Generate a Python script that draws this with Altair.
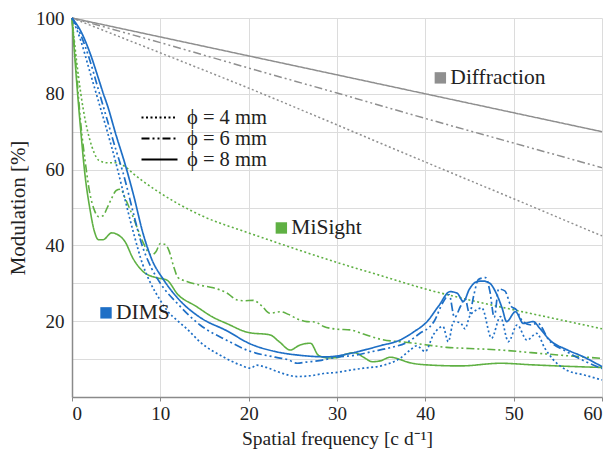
import altair as alt
import pandas as pd

# ---------------- data ----------------
diff_x = [0, 10, 20, 30, 40, 50, 60]
diff_8 = [100, 95, 90, 85, 80, 75, 70]
diff_6 = [100, 93.5, 86.8, 80.2, 73.5, 67, 60.5]
diff_4 = [100, 90.8, 81.5, 71.8, 62, 52.3, 42.5]

mis4_x = [0, 0.5, 1, 1.5, 2, 2.5, 3, 4, 5, 6, 7, 8, 10, 12, 15, 20, 25, 30, 35, 40, 45, 50, 55, 60]
mis4_y = [100, 89, 80, 73, 68, 64.5, 62.5, 61.8, 61.8, 60.8, 58.8, 57, 53.8, 51, 47.5, 43.3, 39.3, 35.5, 32, 28.5, 25.6, 23, 20.5, 18]

mis6_x = [0, 0.5, 1, 1.5, 2, 2.5, 3, 3.5, 4, 4.5, 5, 5.5, 6, 7, 8, 9, 9.5, 10, 10.5, 11, 11.5, 12, 13, 14.5, 16, 17.5,
          18.7, 19.5, 20.5, 21.5, 22.4, 23.6, 24.5, 25.5, 26.6, 27.5, 28.5, 30, 31.5, 33, 35, 38, 40, 42.4, 45, 48.5, 52, 56, 60]
mis6_y = [100, 86, 72, 62, 54, 49.5, 47.6, 47.8, 50, 52.5, 54.5, 54.8, 52.5, 47, 41, 37.5, 38.3, 40.5, 40.3, 38.5, 34.5, 31.5, 30.5, 29.5, 28.8, 27.5,
          25.6, 25.4, 25.5, 24, 22.1, 22.5, 21.8, 20.6, 19.9, 19.8, 18.6, 17.9, 17.7, 16.6, 15.2, 14.4, 13.8, 13.1, 12.8, 12.4, 11.7, 10.9, 10.2]

mis8_x = [0, 0.5, 1, 1.5, 2, 2.5, 3, 3.5, 4.5, 5.2, 6, 6.9, 8, 9.5, 10.7, 12, 14, 16, 17.5, 20, 22.4, 23.5, 24.7, 25.8, 27,
          27.9, 29, 30, 31, 32, 33, 34, 35, 36, 37, 38, 40, 44, 48.5, 52, 56, 60]
mis8_y = [100, 84, 70, 58, 50, 44, 41.5, 41.5, 43.3, 42.8, 41, 36.6, 33.2, 31.5, 30.9, 27, 24, 21, 19.4, 17, 16.4, 14.5, 12.4, 13.7, 14.2,
          11, 10.3, 10.4, 11.3, 11.7, 10.5, 9.3, 9.6, 10.5, 10, 9.2, 8.5, 8.2, 8.9, 8.5, 8.1, 7.8]

dims8_x = [0, 1, 2, 3, 3.55, 4, 5, 6, 7, 8, 9, 10.35, 12, 14.5, 17.5, 20.2, 23, 25.8, 28.8, 31.5, 33.4, 35, 37.1, 38.7, 40.2,
           41.5, 42.8, 43.6, 44.3, 45, 45.8, 46.5, 47.3, 48, 48.7, 49.2, 50.2, 51.1, 52.2, 53, 54.1, 56, 57.9, 60]
dims8_y = [100, 96.5, 91, 84, 80, 77, 69, 61.5, 53, 43.5, 36.5, 31, 26, 21, 17.5, 14, 12, 11, 10.6, 11.5, 12.6, 13.6, 15, 17.2, 19.9,
           24, 27.8, 27.4, 25.2, 28.5, 30.4, 30.6, 30, 27.5, 23.4, 19.9, 22.5, 19.4, 19.9, 18, 15, 12.5, 10.6, 8]

dims6_x = [0, 1, 2, 3, 4, 5, 5.8, 7, 7.8, 9, 10, 12, 14.5, 17.5, 20, 23, 24.5, 25.5, 26.5, 28, 30, 32, 34, 36, 38, 39.5,
           40.5, 41, 42, 42.7, 43.3, 44, 44.5, 45, 45.5, 46, 46.8, 47.3, 47.8, 48.3, 49, 49.7, 50.3, 51, 52, 52.7, 54, 56, 58, 60]
dims6_y = [100, 95.5, 89, 81, 73, 65, 59, 48, 41, 34, 30, 24.5, 19, 15, 12.2, 10.5, 9.8, 8.9, 9.2, 9.6, 10.5, 11, 12, 13, 14.5, 17,
           18.5, 20, 25, 27, 21, 24, 26, 22, 27, 31, 31.5, 28, 21, 28.5, 28, 24, 23, 20, 19, 19.5, 15, 12, 9.5, 7.5]

dims4_x = [0, 1, 2, 3, 4, 5, 5.8, 7, 8, 8.8, 10, 10.7, 12, 13, 14.5, 17.1, 19, 20.2, 20.9, 22, 23.5, 25.5, 27, 28.5, 30,
           31.5, 33, 35.3, 37, 38.3, 39, 40, 40.9, 42, 42.6, 43.2, 44, 44.5, 45, 45.8, 46.4, 47.5, 48.5, 49.4, 50.4,
           51.5, 52.6, 53.5, 54.5, 56, 58, 60]
dims4_y = [100, 94, 86, 78, 70, 61.5, 54, 43, 35, 30.5, 25.5, 23, 20, 18, 14.5, 10.6, 8.5, 7.6, 8.4, 7.8, 6.5, 5.4, 5.6, 6.2, 6.5,
           7.1, 7.6, 8.4, 10, 12.4, 13.5, 12, 16.4, 18.6, 14.6, 19.9, 19.5, 18, 21.2, 23, 23.5, 15.5, 21.2, 14.6, 19,
           15, 16.8, 13, 9.8, 7.1, 5.8, 4.5]

lenses = ["Diffraction", "MiSight", "DIMS"]
apertures = ["\u03d5 = 4 mm", "\u03d5 = 6 mm", "\u03d5 = 8 mm"]

series = [
    ("Diffraction", apertures[0], diff_x, diff_4),
    ("Diffraction", apertures[1], diff_x, diff_6),
    ("Diffraction", apertures[2], diff_x, diff_8),
    ("MiSight", apertures[0], mis4_x, mis4_y),
    ("MiSight", apertures[1], mis6_x, mis6_y),
    ("MiSight", apertures[2], mis8_x, mis8_y),
    ("DIMS", apertures[0], dims4_x, dims4_y),
    ("DIMS", apertures[1], dims6_x, dims6_y),
    ("DIMS", apertures[2], dims8_x, dims8_y),
]

rows = []
for order, (lens, ap, xs, ys) in enumerate(series):
    for x, y in zip(xs, ys):
        rows.append({"freq": x, "mod": y, "lens": lens, "aperture": ap,
                     "series": f"{lens} {ap}", "order": order})
df = pd.DataFrame(rows)

# category label annotations (data coordinates)
label_names = ["Diffraction", "MiSight", "DIMS"]
label_freq = [41.7, 23.7, 3.85]
label_mod = [84.2, 44.6, 22.2]
ann = pd.DataFrame({"lens": label_names, "freq": label_freq, "mod": label_mod})

# ---------------- chart ----------------
SERIF = "Liberation Serif"
colors = ["#8f8f8f", "#5fb043", "#1e6fc6"]

xscale = alt.Scale(domain=[0, 60], nice=False)
yscale = alt.Scale(domain=[0, 100], nice=False)
cscale = alt.Scale(domain=lenses, range=colors)

xaxis = alt.Axis(values=list(range(0, 61, 10)), title="Spatial frequency [c d\u207b\u00b9]",
                 tickSize=4, labelPadding=3, titlePadding=6,
                 labelFont=SERIF, titleFont=SERIF, titleFontSize=19.5)
yaxis = alt.Axis(values=list(range(0, 101, 10)), title="Modulation [%]",
                 labelExpr="datum.value % 20 == 0 && datum.value > 0 ? datum.label : ''",
                 tickSize=0, labelPadding=8, titlePadding=7,
                 labelFont=SERIF, titleFont=SERIF, titleFontSize=21)

lines = alt.Chart(df).mark_line(interpolate="monotone").encode(
    x=alt.X("freq:Q", scale=xscale, axis=xaxis),
    y=alt.Y("mod:Q", scale=yscale, axis=yaxis),
    color=alt.Color("lens:N", scale=cscale, legend=None),
    strokeDash=alt.StrokeDash(
        "aperture:N",
        scale=alt.Scale(domain=apertures, range=[[2, 2.5], [8, 3, 2, 3, 2, 3], [1, 0]]),
        legend=alt.Legend(orient="none", legendX=77, legendY=89, title=None,
                          symbolType="M-2,0H2", symbolSize=324, symbolStrokeColor="black",
                          symbolStrokeWidth=2.2, labelFont=SERIF, labelFontSize=20.5,
                          labelColor="#222222", labelOffset=17, rowPadding=0,
                          padding=0)),
    strokeWidth=alt.StrokeWidth("lens:N", scale=alt.Scale(domain=lenses, range=[1.5, 1.7, 2.1]),
                                legend=None),
    detail="series:N",
    order="order:Q",
)

squares = alt.Chart(ann).mark_square(size=130, opacity=1).encode(
    x=alt.X("freq:Q", scale=xscale, axis=xaxis),
    y=alt.Y("mod:Q", scale=yscale, axis=yaxis),
    color=alt.Color("lens:N", scale=cscale, legend=None),
)
texts = alt.Chart(ann).mark_text(align="left", baseline="middle", dx=10, font=SERIF,
                                 fontSize=21.5, color="#222222").encode(
    x=alt.X("freq:Q", scale=xscale, axis=xaxis),
    y=alt.Y("mod:Q", scale=yscale, axis=yaxis),
    text="lens:N",
)

chart = alt.layer(lines, squares, texts).properties(
    width=530, height=379,
    autosize=alt.AutoSizeParams(type="none"),
    padding={"left": 72, "top": 18, "right": 12, "bottom": 58},
).configure(
    background="white", font=SERIF
).configure_view(stroke=None).configure_axis(
    grid=True, gridColor="#dcdcdc", gridWidth=1,
    domainColor="#8a8a8a", domainWidth=1.5, tickColor="#8a8a8a",
    labelFont=SERIF, labelFontSize=19, labelColor="#222222",
    titleFont=SERIF, titleFontSize=19.5, titleFontWeight="normal", titleColor="#222222",
)

chart.save("out.html", embed_options={"renderer": "svg", "actions": False})
